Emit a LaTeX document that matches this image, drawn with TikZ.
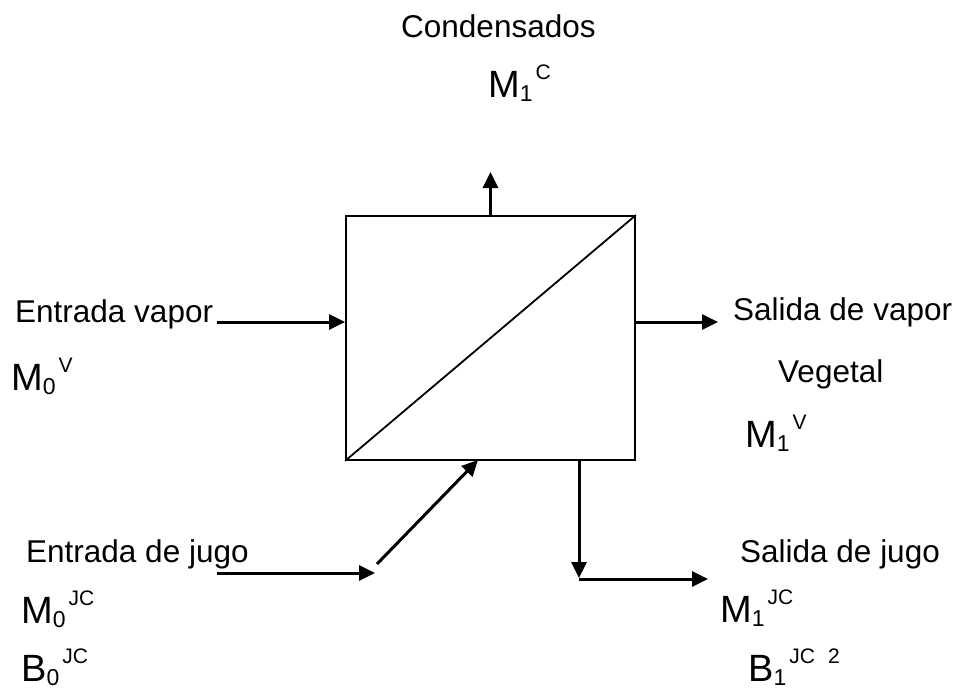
\documentclass[tikz,border=0pt]{standalone}
\usepackage{fontspec}
\setmainfont{Liberation Sans}
\usetikzlibrary{arrows.meta}
\newcommand{\flujo}[3]{{\fontsize{38}{38}\selectfont #1}\raisebox{-4pt}{\fontsize{23}{23}\selectfont #2}\hspace{3pt}\raisebox{18pt}{\fontsize{21}{21}\selectfont #3}}
\begin{document}
\begin{tikzpicture}[x=1pt, y=-1pt,
  every node/.style={font=\fontsize{31.5}{38}\selectfont, inner sep=0pt},
  etiq/.style={anchor=base west},
  flecha/.style={line width=3pt, -{Triangle[length=16pt,width=15pt]}}]
\useasboundingbox (0,0) rectangle (956,691);
% evaporador
\node[draw, line width=1.8pt, minimum width=289pt, minimum height=244pt] (evap) at (490.5,338) {};
\draw[line width=1.8pt] (evap.south west) -- (evap.north east);
% textos
\node[etiq] (cond) at (401,37) {Condensados};
\node[etiq] (mc) at (488,97) {\flujo{M}{1}{C}};
\node[etiq] (ev) at (15,322) {Entrada vapor};
\node[etiq] (mv0) at (11,390) {\flujo{M}{0}{V}};
\node[etiq] (sv) at (733,320) {Salida de vapor};
\node[etiq] (veg) at (778,382) {Vegetal};
\node[etiq] (mv1) at (745,447) {\flujo{M}{1}{V}};
\node[etiq] (ej) at (26,562) {Entrada de jugo};
\node[etiq] (mj0) at (21,623) {\flujo{M}{0}{JC}};
\node[etiq] (bj0) at (21,681) {\flujo{B}{0}{JC}};
\node[etiq] (sj) at (740,562) {Salida de jugo};
\node[etiq] (mj1) at (720,622) {\flujo{M}{1}{JC}};
\node[etiq] (bj1) at (748,681) {\flujo{B}{1}{JC\hspace{13pt}2}};
% flujos
\coordinate (sal) at (490.5,172);
\coordinate (vin) at (217,322);
\coordinate (vout) at (718,322);
\coordinate (jin) at (217,573);
\coordinate (jmed) at (375,573);
\coordinate (jdiag) at (377,564);
\coordinate (jsup) at (478,460);
\coordinate (jbaja) at (579,578);
\coordinate (jout) at (708,579);
\draw[flecha] (evap.north) -- (sal);
\draw[flecha] (vin) -- (vin -| evap.west);
\draw[flecha] (vout -| evap.east) -- (vout);
\draw[flecha] (jin) -- (jmed);
\draw[flecha] (jdiag) -- (jsup);
\draw[flecha] (jbaja |- evap.south) -- (jbaja);
\draw[flecha] (jbaja |- jout) -- (jout);
\end{tikzpicture}
\end{document}
